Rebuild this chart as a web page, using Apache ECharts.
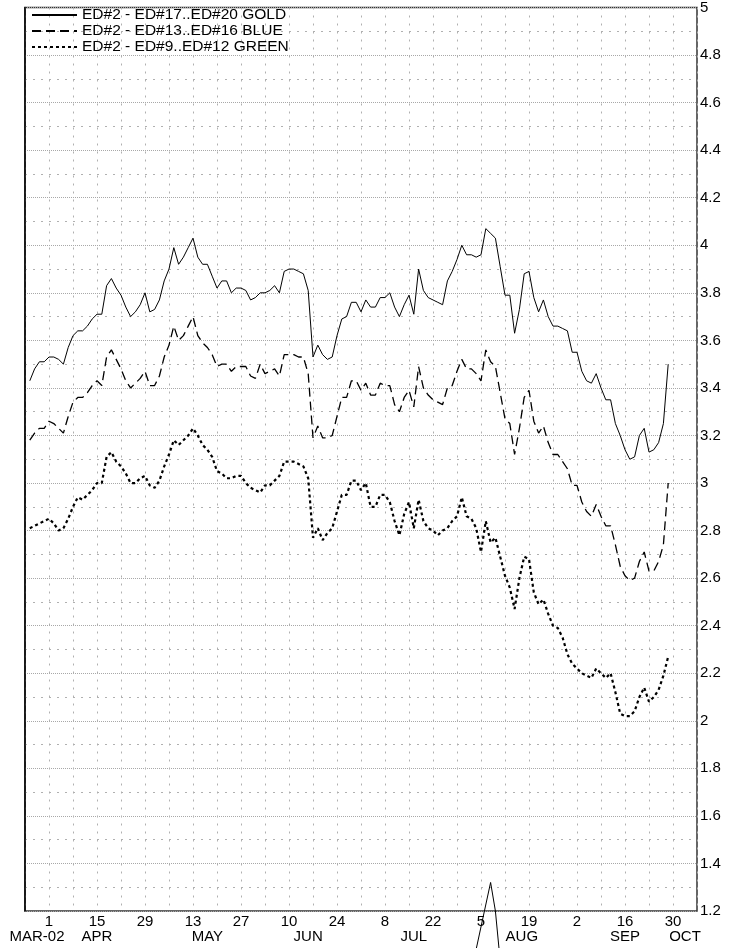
<!DOCTYPE html>
<html><head><meta charset="utf-8">
<script src="https://cdn.jsdelivr.net/npm/echarts@6/dist/echarts.min.js"></script>
<style>html,body{margin:0;padding:0;background:#fff}#c{width:736px;height:948px}</style>
</head><body><div id="c"></div>
<script>
// trading-day index 0 = Mon 25-Mar-2002, 140 = Mon 7-Oct-2002; series start at day 1
const firstDay = 1;
const gold = [3.43,3.48,3.51,3.51,3.53,3.53,3.52,3.50,3.57,3.62,3.64,3.64,3.66,3.69,3.71,3.71,3.83,3.86,3.82,3.79,
3.74,3.70,3.72,3.75,3.80,3.72,3.73,3.77,3.85,3.90,3.99,3.92,3.95,3.99,4.03,3.95,3.92,3.92,3.87,3.82,
3.85,3.85,3.80,3.82,3.82,3.81,3.77,3.78,3.80,3.80,3.81,3.83,3.80,3.89,3.90,3.90,3.89,3.88,3.81,3.53,
3.58,3.54,3.52,3.53,3.62,3.69,3.70,3.76,3.76,3.72,3.77,3.74,3.74,3.78,3.78,3.80,3.74,3.70,3.75,3.79,
3.71,3.90,3.81,3.78,3.77,3.76,3.75,3.85,3.89,3.94,4.00,3.96,3.96,3.95,3.96,4.07,4.05,4.03,3.91,3.79,
3.79,3.63,3.73,3.88,3.89,3.78,3.72,3.77,3.70,3.66,3.66,3.65,3.64,3.55,3.55,3.47,3.43,3.42,3.46,3.40,
3.35,3.35,3.25,3.20,3.14,3.10,3.11,3.20,3.23,3.13,3.14,3.17,3.25,3.50];
const blue = [3.18,3.21,3.23,3.23,3.26,3.25,3.23,3.21,3.28,3.34,3.36,3.36,3.38,3.41,3.43,3.41,3.53,3.56,3.52,3.48,
3.43,3.40,3.42,3.44,3.47,3.41,3.41,3.45,3.53,3.58,3.66,3.60,3.62,3.66,3.70,3.62,3.59,3.57,3.54,3.49,
3.50,3.50,3.47,3.49,3.49,3.49,3.45,3.44,3.50,3.46,3.47,3.48,3.45,3.54,3.54,3.54,3.53,3.53,3.46,3.19,
3.24,3.19,3.19,3.20,3.28,3.36,3.36,3.43,3.43,3.39,3.42,3.37,3.37,3.42,3.41,3.41,3.33,3.30,3.36,3.39,
3.32,3.49,3.40,3.37,3.35,3.34,3.33,3.40,3.41,3.47,3.52,3.48,3.48,3.46,3.43,3.56,3.51,3.49,3.38,3.27,
3.25,3.12,3.23,3.36,3.39,3.26,3.21,3.24,3.17,3.12,3.12,3.09,3.06,2.99,2.99,2.92,2.88,2.86,2.91,2.86,
2.82,2.82,2.74,2.65,2.61,2.59,2.60,2.67,2.71,2.63,2.63,2.67,2.74,3.00];
const green = [2.81,2.82,2.83,2.84,2.85,2.83,2.80,2.81,2.85,2.90,2.94,2.93,2.95,2.97,3.00,3.00,3.11,3.13,3.09,3.07,
3.04,3.00,3.00,3.02,3.03,2.99,2.98,3.01,3.07,3.12,3.18,3.16,3.18,3.20,3.23,3.20,3.16,3.14,3.11,3.05,
3.04,3.02,3.02,3.03,3.03,3.00,2.98,2.97,2.96,2.99,2.99,3.01,3.03,3.09,3.09,3.09,3.08,3.07,3.02,2.77,
2.81,2.76,2.79,2.81,2.88,2.95,2.95,3.01,3.01,2.97,3.00,2.90,2.90,2.95,2.95,2.92,2.84,2.78,2.87,2.92,
2.81,2.93,2.84,2.81,2.80,2.78,2.80,2.81,2.84,2.86,2.94,2.86,2.85,2.81,2.71,2.84,2.75,2.77,2.69,2.61,
2.56,2.47,2.60,2.69,2.68,2.54,2.49,2.51,2.45,2.40,2.39,2.35,2.28,2.24,2.22,2.20,2.19,2.18,2.22,2.20,
2.18,2.20,2.12,2.03,2.02,2.02,2.04,2.10,2.14,2.08,2.10,2.13,2.19,2.27];
// stray off-scale trace near early August
const spikeDays = [94, 97, 98, 99];
const spikeVals = [1.04, 1.32, 1.20, 0.99];

const seriesNames = ['ED#2 - ED#17..ED#20 GOLD', 'ED#2 - ED#13..ED#16 BLUE', 'ED#2 - ED#9..ED#12 GREEN'];
const dayTickDays = [5,15,25,35,45,55,65,75,85,95,105,115,125,135];
const dayTickLabels = ['1','15','29','13','27','10','24','8','22','5','19','2','16','30'];
const monthDays = [2.5,15,38,59,81,103.5,125,137.5];
const monthLabels = ['MAR-02','APR','MAY','JUN','JUL','AUG','SEP','OCT'];

const FONT = 'Liberation Sans, Arial, sans-serif';
const toPairs = arr => arr.map((v, i) => [firstDay + i, v]);

const chart = echarts.init(document.getElementById('c'), null, {renderer: 'canvas'});
chart.setOption({
  animation: false,
  backgroundColor: '#fff',
  grid: {left: 25, right: 39, top: 1, bottom: 37, show: true, borderColor: '#333', borderWidth: 1.5},
  legend: {
    data: seriesNames, orient: 'vertical', left: 31, top: 4, padding: 0,
    itemWidth: 45, itemHeight: 16.5, itemGap: 0,
    itemStyle: {color: 'rgba(0,0,0,0)', borderWidth: 0, opacity: 0},
    textStyle: {fontSize: 15.5, color: '#000', fontFamily: FONT}
  },
  xAxis: [{
    type: 'value', min: 0, max: 140, interval: 5,
    axisLine: {show: false}, axisTick: {show: false},
    splitLine: {show: true, lineStyle: {color: '#b0b0b0', width: 1, type: [2, 6]}},
    axisLabel: {
      customValues: dayTickDays, margin: 3, fontSize: 15, color: '#000', fontFamily: FONT,
      formatter: v => { const k = dayTickDays.indexOf(v); return k >= 0 ? dayTickLabels[k] : ''; }
    }
  }, {
    type: 'value', min: 0, max: 140, position: 'bottom',
    axisLine: {show: false}, axisTick: {show: false}, splitLine: {show: false},
    axisLabel: {
      customValues: monthDays, margin: 18, fontSize: 15, color: '#000', fontFamily: FONT,
      formatter: v => { const k = monthDays.indexOf(v); return k >= 0 ? monthLabels[k] : ''; }
    }
  }],
  yAxis: {
    type: 'value', position: 'right', min: 1.2, max: 5, interval: 0.2,
    axisLine: {show: true, lineStyle: {color: '#000', width: 1.5}},
    axisTick: {show: false},
    axisLabel: {margin: 3, fontSize: 15, color: '#000', fontFamily: FONT, verticalAlign: 'middle'},
    splitLine: {show: true, lineStyle: {color: '#a8a8a8', width: 1, type: [1, 1]}},
    minorTick: {show: false, splitNumber: 2},
    minorSplitLine: {show: true, lineStyle: {color: '#b0b0b0', width: 1, type: [2, 6]}}
  },
  series: [
    {name: seriesNames[0], type: 'line', data: toPairs(gold), symbol: 'none',
     lineStyle: {color: '#000', width: 1, type: 'solid'}, itemStyle: {color: '#000'}},
    {name: seriesNames[1], type: 'line', data: toPairs(blue), symbol: 'none',
     lineStyle: {color: '#000', width: 1.3, type: [9, 5]}, itemStyle: {color: '#000'}},
    {name: seriesNames[2], type: 'line', data: toPairs(green), symbol: 'none',
     lineStyle: {color: '#000', width: 2.2, type: [3, 3]}, itemStyle: {color: '#000'}},
    {name: 'spike', type: 'line', clip: false, symbol: 'none',
     data: spikeDays.map((d, i) => [d, spikeVals[i]]),
     lineStyle: {color: '#000', width: 1}}
  ]
});
chart.setOption({legend: {top: 7, itemHeight: 16.8}});
</script></body></html>
